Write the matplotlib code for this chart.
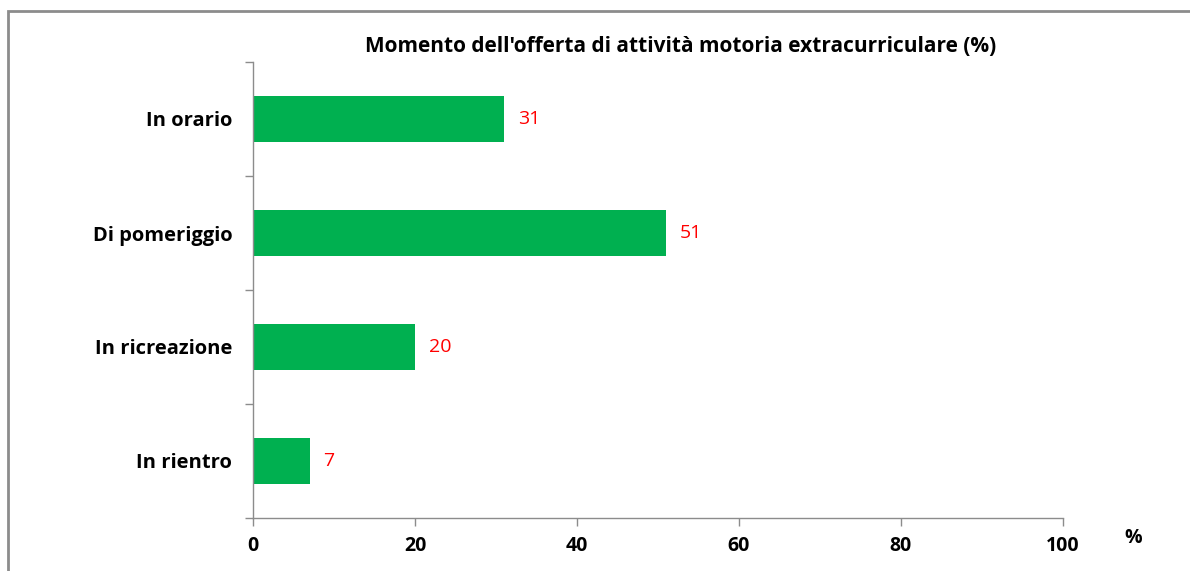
import matplotlib.pyplot as plt
from matplotlib.patches import Rectangle
import numpy as np

# dati
categorie = ["In orario", "Di pomeriggio", "In ricreazione", "In rientro"]
valori = [31, 51, 20, 7]
xticks = [0, 20, 40, 60, 80, 100]

titolo = "Momento dell'offerta di attività motoria extracurriculare (%)"
verde = "#00B050"
grigio = "#8C8C8C"

plt.rcParams["font.family"] = ["Open Sans", "DejaVu Sans"]

W, H = 1190, 571
fig = plt.figure(figsize=(W / 100, H / 100), dpi=100)
ax = fig.add_axes([253 / W, 1 - 518 / H, (1063 - 253) / W, (518 - 62) / H])

y = np.arange(len(categorie))
ax.barh(y, valori, height=0.4, color=verde)
ax.set_ylim(len(categorie) - 0.5, -0.5)
ax.set_xlim(0, 100)

for yi, v in zip(y, valori):
    ax.text(v + 1.7, yi, f"{v}", color="red", fontsize=14, va="center", ha="left")

ax.set_xticks(xticks)
ax.set_xticklabels([str(t) for t in xticks], fontsize=14, fontweight="bold")
ax.set_yticks(y)
ax.set_yticklabels(categorie, fontsize=14.5, fontweight="bold")
ax.set_yticks(np.arange(len(categorie) + 1) - 0.5, minor=True)
ax.tick_params(axis="y", which="major", length=0, pad=15)
ax.tick_params(axis="y", which="minor", length=6, color=grigio, width=1)
ax.tick_params(axis="x", which="major", length=6, color=grigio, width=1, pad=7)

for s in ["top", "right"]:
    ax.spines[s].set_visible(False)
for s in ["left", "bottom"]:
    ax.spines[s].set_color(grigio)
    ax.spines[s].set_linewidth(1)

fig.text(681 / W, 1 - 47 / H, titolo, ha="center", va="center",
         fontsize=15, fontweight="bold")
fig.text(1133 / W, 1 - 538 / H, "%", ha="center", va="center",
         fontsize=14, fontweight="bold")

# cornice esterna (lati destro e inferiore fuori immagine)
fig.patches.append(Rectangle((8 / W, -0.1), 1.2, 1 - 11 / H + 0.1,
                             transform=fig.transFigure, fill=False,
                             edgecolor=grigio, linewidth=2))

fig.savefig("out.png", dpi=100)
